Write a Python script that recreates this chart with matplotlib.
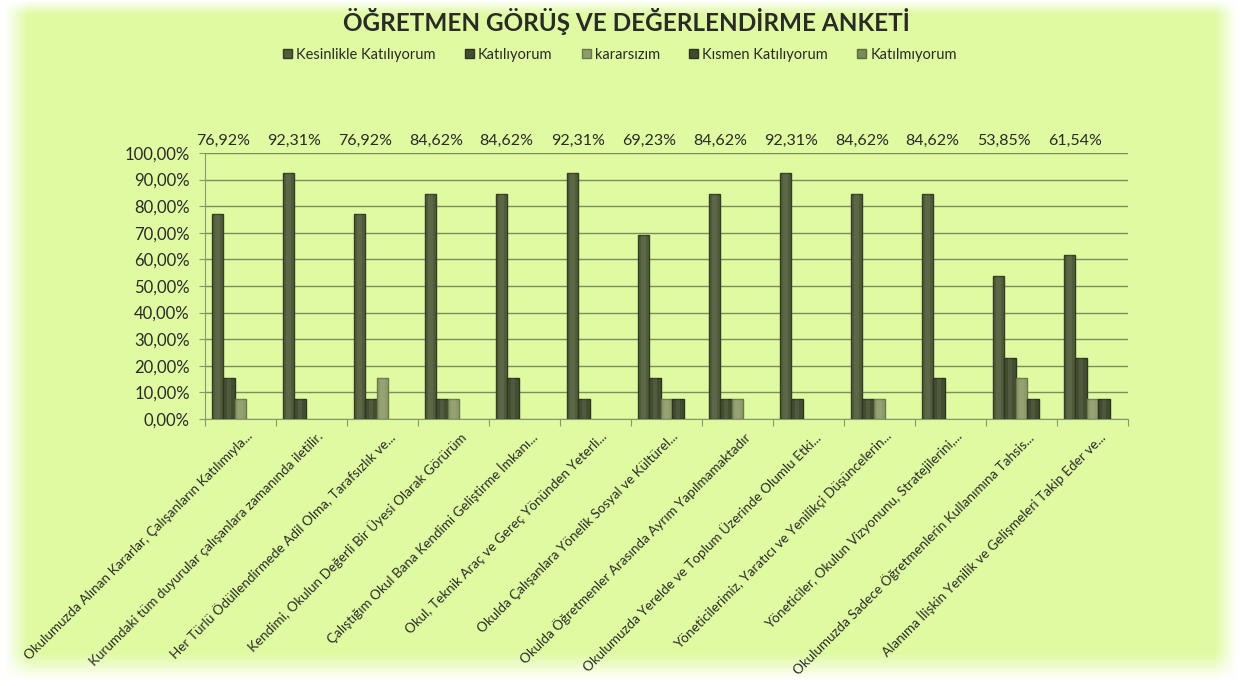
import numpy as np
import matplotlib
matplotlib.use("Agg")
import matplotlib.pyplot as plt
from matplotlib.patches import Patch

plt.rcParams['font.family'] = ['Lato', 'DejaVu Sans']

title = "ÖĞRETMEN GÖRÜŞ VE DEĞERLENDİRME ANKETİ"
categories = [
    "Okulumuzda Alınan Kararlar, Çalışanların Katılımıyla...",
    "Kurumdaki tüm duyurular çalışanlara zamanında iletilir.",
    "Her Türlü Ödüllendirmede Adil Olma, Tarafsızlık ve...",
    "Kendimi, Okulun Değerli Bir Üyesi Olarak Görürüm",
    "Çalıştığım Okul Bana Kendimi Geliştirme İmkanı...",
    "Okul, Teknik Araç ve Gereç Yönünden Yeterli...",
    "Okulda Çalışanlara Yönelik Sosyal ve Kültürel...",
    "Okulda Öğretmenler Arasında Ayrım Yapılmamaktadır",
    "Okulumuzda Yerelde ve Toplum Üzerinde Olumlu Etki...",
    "Yöneticilerimiz, Yaratıcı ve Yenilikçi Düşüncelerin...",
    "Yöneticiler, Okulun Vizyonunu, Stratejilerini,...",
    "Okulumuzda Sadece Öğretmenlerin Kullanımına Tahsis...",
    "Alanıma İlişkin Yenilik ve Gelişmeleri Takip Eder ve...",
]
series_names = ["Kesinlikle Katılıyorum", "Katılıyorum", "kararsızım",
                "Kısmen Katılıyorum", "Katılmıyorum"]
kesinlikle = [76.92, 92.31, 76.92, 84.62, 84.62, 92.31, 69.23, 84.62, 92.31, 84.62, 84.62, 53.85, 61.54]
katiliyorum = [15.38, 7.69, 7.69, 7.69, 15.38, 7.69, 15.38, 7.69, 7.69, 7.69, 15.38, 23.08, 23.08]
kararsizim = [7.69, 0, 15.38, 7.69, 0, 0, 7.69, 7.69, 0, 7.69, 0, 15.38, 7.69]
kismen = [0, 0, 0, 0, 0, 0, 7.69, 0, 0, 0, 0, 7.69, 7.69]
katilmiyorum = [0, 0, 0, 0, 0, 0, 0, 0, 0, 0, 0, 0, 0]
series = [kesinlikle, katiliyorum, kararsizim, kismen, katilmiyorum]
colors = ['#505C3A', '#434E31', '#8F9C69', '#414B2F', '#7C8A58']
edge_colors = ['#343D25', '#2E3622', '#6B774C', '#2C3420', '#5E6B40']

W, H = 1240, 686
fig = plt.figure(figsize=(W / 100, H / 100), dpi=100, facecolor='white')

# soft-edged green background
bg = fig.add_axes([0, 0, 1, 1], zorder=0)
xs = np.arange(W)
ys = np.arange(H)
ax_l = np.clip((xs - 4) / 24.0, 0, 1)
ax_r = np.clip((1236 - xs) / 22.0, 0, 1)
ay_t = np.clip((ys - 0) / 14.0, 0, 1)
ay_b = np.clip((680 - ys) / 28.0, 0, 1)
alpha = np.outer(ay_t * ay_b, ax_l * ax_r)
img = np.zeros((H, W, 4))
img[..., 0] = 223 / 255
img[..., 1] = 250 / 255
img[..., 2] = 160 / 255
img[..., 3] = alpha
bg.imshow(img, aspect='auto', extent=[0, W, H, 0])
bg.set_axis_off()

ax = fig.add_axes([205 / W, 1 - 419 / H, (1128 - 205) / W, (419 - 153) / H], zorder=1)
ax.set_facecolor('none')

n = len(categories)
x = np.arange(n)
bw = 0.162
for i, (vals, c, ec) in enumerate(zip(series, colors, edge_colors)):
    offs = (i - 2) * bw
    v = np.array(vals, dtype=float)
    m = v > 0
    if not m.any():
        continue
    ax.bar(x[m] + offs, v[m], width=bw, color=c, edgecolor=ec, linewidth=1.0, zorder=3)
    # central highlight to suggest cylindrical shading
    ax.bar(x[m] + offs, v[m], width=bw * 0.35, color='white', alpha=0.07, linewidth=0, zorder=4)

ax.set_xlim(-0.5, n - 0.5)
ax.set_ylim(0, 100)
ax.set_yticks(np.arange(0, 101, 10))
ax.set_yticklabels([f"{v:.2f}".replace('.', ',') + "%" for v in np.arange(0, 101, 10)],
                   fontsize=12, color='#2A2A2A')
ax.yaxis.grid(True, color='#7E8C62', linewidth=1.0, zorder=0)
ax.set_axisbelow(True)
for s in ['top', 'right']:
    ax.spines[s].set_visible(False)
ax.spines['left'].set_color('#8A9870')
ax.spines['bottom'].set_color('#8A9870')
ax.tick_params(axis='y', length=4, color='#8A9870', pad=7)
ax.set_xticks(np.arange(-0.5, n, 1.0), minor=False)
ax.set_xticklabels([])
ax.tick_params(axis='x', length=5, color='#8A9870', direction='out')

# rotated category labels
for i, lab in enumerate(categories):
    ax.annotate(lab, xy=(i, 0), xycoords=('data', 'axes fraction'),
                xytext=(4, -8), textcoords='offset points',
                rotation=45, ha='right', va='top', rotation_mode='anchor',
                fontsize=9.7, color='#2A2A2A')

# data labels for first series above plot area
for i, v in enumerate(kesinlikle):
    ax.text(i - 0.25, 1.045, f"{v:.2f}".replace('.', ',') + "%",
            transform=ax.get_xaxis_transform(), ha='center', va='center',
            fontsize=11.5, color='#2A2A2A')

fig.text(0.505, 0.969, title, ha='center', va='center', fontsize=17.5,
         fontweight='bold', color='#2A2A2A')

handles = [Patch(facecolor=c, edgecolor=ec) for c, ec in zip(colors, edge_colors)]
fig.legend(handles, series_names, loc='center', bbox_to_anchor=(0.5, 0.92), ncol=5,
           frameon=False, fontsize=10.5, handlelength=0.6, handleheight=0.6,
           handletextpad=0.3, columnspacing=2.0, labelcolor='#2A2A2A')

fig.savefig('out.png', dpi=100, facecolor='white')
